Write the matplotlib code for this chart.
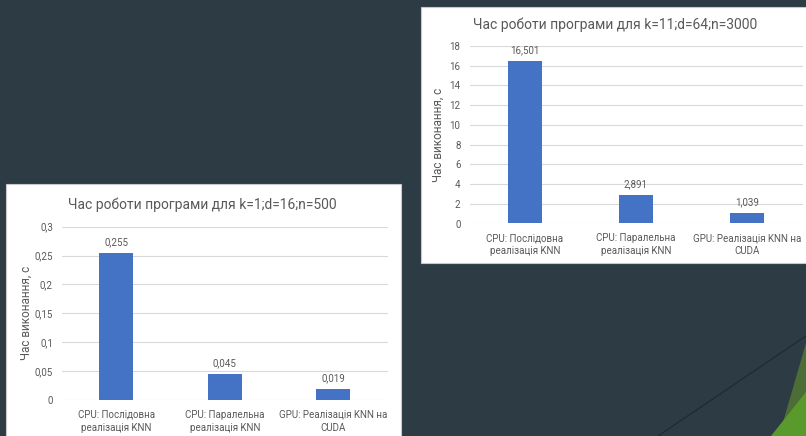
import matplotlib
matplotlib.use('Agg')
import matplotlib.pyplot as plt
from matplotlib.patches import Rectangle, Polygon
from matplotlib.lines import Line2D
from matplotlib.ticker import FuncFormatter, MultipleLocator

plt.rcParams['font.family'] = ['Roboto', 'DejaVu Sans']

# data
categories = ['CPU: Послідовна\nреалізація KNN',
              'CPU: Паралельна\nреалізація KNN',
              'GPU: Реалізація KNN на\nCUDA']
times_small = [0.255, 0.045, 0.019]
times_big = [16.501, 2.891, 1.039]
title_small = 'Час роботи програми для k=1;d=16;n=500'
title_big = 'Час роботи програми для k=11;d=64;n=3000'
ylabel = 'Час виконання, с'

W, H = 806, 436
BG = '#2c3b44'
BAR = '#4472c4'
TXT = '#595959'
GRID = '#d9d9d9'

fig = plt.figure(figsize=(W / 100, H / 100), dpi=100, facecolor=BG)


def fx(px):
    return px / W


def fy(py):
    return 1 - py / H


# background decoration (bottom right)
fig.add_artist(Line2D([fx(658), fx(806)], [fy(436), fy(336)], color='#1f2b31', lw=0.9, zorder=-3))
fig.patches.append(Polygon([(fx(806), fy(343)), (fx(806), fy(436)), (fx(779), fy(436))],
                           closed=True, transform=fig.transFigure, facecolor='#4c6e36',
                           edgecolor='none', zorder=-3))
fig.patches.append(Polygon([(fx(806), fy(392)), (fx(806), fy(436)), (fx(771), fy(436))],
                           closed=True, transform=fig.transFigure, facecolor='#5a9a2d',
                           edgecolor='none', zorder=-3))

# white panels
fig.patches.append(Rectangle((fx(6), fy(437)), fx(401 - 6), (437 - 184) / H, transform=fig.transFigure,
                             facecolor='white', edgecolor='#c8c8c8', lw=0.8, zorder=-2))
fig.patches.append(Rectangle((fx(421), fy(263)), fx(807 - 421), (263 - 7) / H, transform=fig.transFigure,
                             facecolor='white', edgecolor='#c8c8c8', lw=0.8, zorder=-2))


def comma(v, pos=None):
    return f'{v:g}'.replace('.', ',')


def draw(rect, values, ymax, step, title, title_xy, label_x):
    l, t, r, b = rect
    ax = fig.add_axes([fx(l), fy(b), fx(r - l), (b - t) / H])
    ax.set_facecolor('none')
    x = range(len(values))
    bars = ax.bar(x, values, width=0.31, color=BAR, zorder=3)
    ax.bar_label(bars, labels=[f'{v:.3f}'.replace('.', ',') for v in values],
                 padding=4, fontsize=7, color=TXT)
    ax.set_ylim(0, ymax)
    ax.set_xlim(-0.5, 2.5)
    ax.yaxis.set_major_locator(MultipleLocator(step))
    ax.yaxis.set_major_formatter(FuncFormatter(comma))
    ax.grid(axis='y', color=GRID, lw=0.8, zorder=0)
    for s in ax.spines.values():
        s.set_visible(False)
    ax.tick_params(length=0, colors=TXT, labelsize=7)
    ax.tick_params(axis='y', pad=6.5)
    ax.tick_params(axis='x', pad=7)
    ax.set_xticks(list(x))
    ax.set_xticklabels(categories, fontsize=7, color=TXT, linespacing=1.35)
    ax.set_ylabel(ylabel, fontsize=8.5, color=TXT)
    ax.yaxis.set_label_coords(label_x, 0.5)
    fig.text(fx(title_xy[0]), fy(title_xy[1]), title, ha='center', va='center',
             fontsize=10, color=TXT)
    return ax


draw((62, 226.7, 387.5, 400), times_small, 0.3, 0.05, title_small, (202, 205), -0.091)
draw((469.5, 46, 802.5, 223.5), times_big, 18, 2, title_big, (615, 25), -0.075)

fig.savefig('out.png', dpi=100, facecolor=BG)
